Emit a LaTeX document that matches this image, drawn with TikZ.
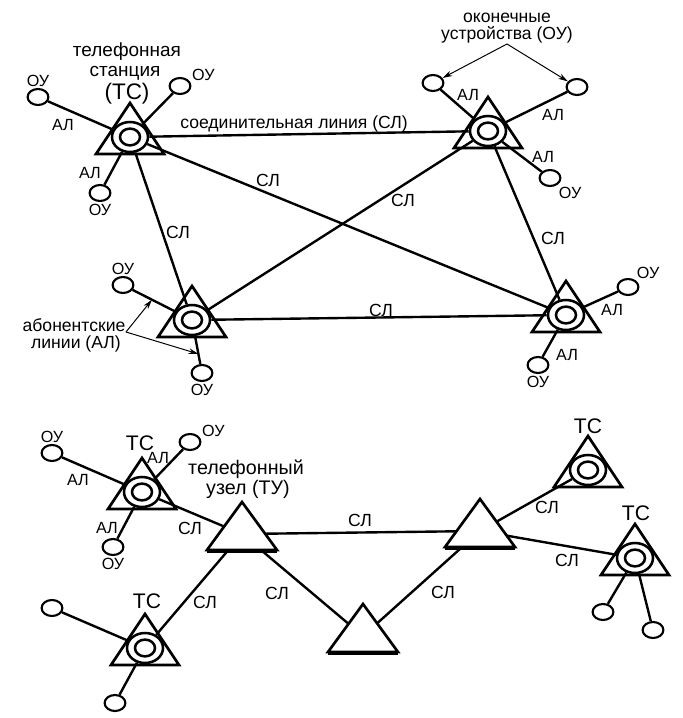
\documentclass[tikz,border=0pt]{standalone}
\usepackage{fontspec}
\setmainfont{Liberation Sans}
\usetikzlibrary{shapes.geometric,arrows.meta,backgrounds,calc}

\tikzset{
  fs/.style={font=\fontsize{#1}{#1}\selectfont},
  lbl/.style={fs=11.5, inner sep=1pt},
  sl/.style={fs=12.5, inner sep=1pt},
  title/.style={fs=#1, anchor=base, inner sep=0pt},
  ring/.style={ellipse, draw, fill=white, line width=1.8pt, inner sep=0pt,
    minimum width=0.9cm, minimum height=0.75cm},
  hole/.style={ellipse, draw, line width=1.8pt, inner sep=0pt,
    minimum width=0.5cm, minimum height=0.42cm},
  ou/.style={ellipse, draw, fill=white, line width=1.5pt, inner sep=0pt,
    minimum width=0.52cm, minimum height=0.4cm},
  link/.style={line width=1.7pt},
  pointer/.style={line width=0.7pt, -{Stealth[length=7pt,width=4pt]}},
  station/.pic={
    \draw[line width=1.9pt, line join=miter] (-34,17) -- (0,-34) -- (34,17) -- cycle;
    \node[ring] (-c) at (0,0) {};
    \node[hole] (-h) at (0,0) {};
  },
  hub/.pic={
    \draw[line width=1.9pt, fill=white, line join=miter] (-35,16) -- (0,-32) -- (35,16) -- cycle;
    \draw[line width=3.4pt] (-35,17) -- (35,17);
    \coordinate (-c) at (0,0);
  },
}

\begin{document}
\begin{tikzpicture}[x=0.025cm, y=-0.025cm]
  \useasboundingbox (0,0) rectangle (683,718);
  % Upper network: four stations, each joined to every other
  \pic (s1) at (130,137) {station};
  \pic (s2) at (488,131) {station};
  \pic (s3) at (192,320) {station};
  \pic (s4) at (566,315) {station};
  % Terminal devices of the upper network
  \node[ou, label={[lbl]above:ОУ}] (a1) at (38,97) {};
  \node[ou, label={[lbl]20:ОУ}]    (a2) at (180,86) {};
  \node[ou, label={[lbl]below:ОУ}] (a3) at (100,193) {};
  \node[ou] (b1) at (433,83) {};
  \node[ou] (b2) at (577,87) {};
  \node[ou, label={[lbl]below right:ОУ}] (b3) at (550,178) {};
  \node[ou, label={[lbl]above:ОУ}] (d1) at (123,285) {};
  \node[ou, label={[lbl]below:ОУ}] (d2) at (202,373) {};
  \node[ou, label={[lbl]above right:ОУ}] (e1) at (628,287) {};
  \node[ou, label={[lbl]below:ОУ}] (e2) at (538,365) {};
  % Lower network: hubs and stations
  \pic (t1) at (242,534) {hub};
  \pic (t2) at (480,531) {hub};
  \pic (t3) at (363,636) {hub};
  \pic (s5) at (142,492) {station};
  \pic (s6) at (145,648) {station};
  \pic (s7) at (588,470) {station};
  \pic (s8) at (635,558) {station};
  \node[ou, label={[lbl]above:ОУ}] (f1) at (52,453) {};
  \node[ou, label={[lbl]20:ОУ}]    (f2) at (190,442) {};
  \node[ou, label={[lbl]below:ОУ}] (f3) at (113,547) {};
  \node[ou] (g1) at (52,608) {};
  \node[ou] (g2) at (115,703) {};
  \node[ou] (h1) at (603,612) {};
  \node[ou] (h2) at (653,630) {};
  % Connecting and subscriber lines
  \begin{scope}[on background layer]
    \draw[link] (s1-c) -- (s2-c) (s1-c) -- (s3-c) (s1-c) -- (s4-c);
    \draw[link] (s2-c) -- (s3-c) (s2-c) -- (s4-c) (s3-c) -- (s4-c);
    \draw[link] (a1) -- (s1-c) (a2) -- (s1-c) (a3) -- (s1-c);
    \draw[link] (b1) -- (s2-c) (b2) -- (s2-c) (b3) -- (s2-c);
    \draw[link] (d1) -- (s3-c) (d2) -- (s3-c);
    \draw[link] (e1) -- (s4-c) (e2) -- (s4-c);
    \draw[link] (s5-c) -- (t1-c) (s6-c) -- (t1-c) (t1-c) -- (t2-c);
    \draw[link] (t1-c) -- (t3-c) (t3-c) -- (t2-c);
    \draw[link] (t2-c) -- (s7-c) (t2-c) -- (s8-c);
    \draw[link] (f1) -- (s5-c) (f2) -- (s5-c) (f3) -- (s5-c);
    \draw[link] (g1) -- (s6-c) (g2) -- (s6-c);
    \draw[link] (h1) -- (s8-c) (h2) -- (s8-c);
  \end{scope}
  % Titles
  \node[title=13.5] (tsA) at (127,56) {телефонная};
  \node[title=13.5] (tsB) at (125,76) {станция};
  \node[title=16] (tsC) at (127,99) {(ТС)};
  \node[title=12.5] (ouA) at (507,22) {оконечные};
  \node[title=12.5] (ouB) at (507,39) {устройства (ОУ)};
  \node[title=12.5] (abA) at (74,331) {абонентские};
  \node[title=12.5] (abB) at (76,348) {линии (АЛ)};
  \node[title=14] (tuA) at (246,474) {телефонный};
  \node[title=14] (tuB) at (248,494) {узел (ТУ)};
  \node[fs=15] (ts5) at (140,443) {ТС};
  \node[fs=15] (ts6) at (147,601) {ТС};
  \node[fs=15] (ts7) at (588,426) {ТС};
  \node[fs=15] (ts8) at (636,513) {ТС};
  % Callout arrows
  \coordinate (ouFork) at (507,44);
  \coordinate (alFork) at (126,332);
  \coordinate (alUp) at ($(d1)!0.42!(s3-c)$);
  \coordinate (alDown) at ($(s3-c)!0.64!(d2)$);
  \draw[pointer] (ouFork) -- (b1);
  \draw[pointer] (ouFork) -- (b2);
  \draw[pointer] (alFork) -- (alUp);
  \draw[pointer] (alFork) -- (alDown);
  % Line labels
  \node[sl] (slMain) at (294,124) {соединительная линия (СЛ)};
  \node[sl] (sl1) at (268,180) {СЛ};
  \node[sl] (sl2) at (178,232) {СЛ};
  \node[sl] (sl3) at (403,200) {СЛ};
  \node[sl] (sl4) at (553,238) {СЛ};
  \node[sl] (sl5) at (381,310) {СЛ};
  \node[sl] (sl6) at (190,528) {СЛ};
  \node[sl] (sl7) at (205,602) {СЛ};
  \node[sl] (sl8) at (277,593) {СЛ};
  \node[sl] (sl9) at (360,520) {СЛ};
  \node[sl] (sl10) at (443,592) {СЛ};
  \node[sl] (sl11) at (547,507) {СЛ};
  \node[sl] (sl12) at (567,560) {СЛ};
  \node[lbl] (al1) at (63,125) {АЛ};
  \node[lbl] (al2) at (90,173) {АЛ};
  \node[lbl] (al3) at (468,95) {АЛ};
  \node[lbl] (al4) at (553,115) {АЛ};
  \node[lbl] (al5) at (543,157) {АЛ};
  \node[lbl] (al6) at (612,310) {АЛ};
  \node[lbl] (al7) at (567,355) {АЛ};
  \node[lbl] (al8) at (78,480) {АЛ};
  \node[lbl] (al9) at (158,458) {АЛ};
  \node[lbl] (al10) at (107,528) {АЛ};
\end{tikzpicture}
\end{document}
